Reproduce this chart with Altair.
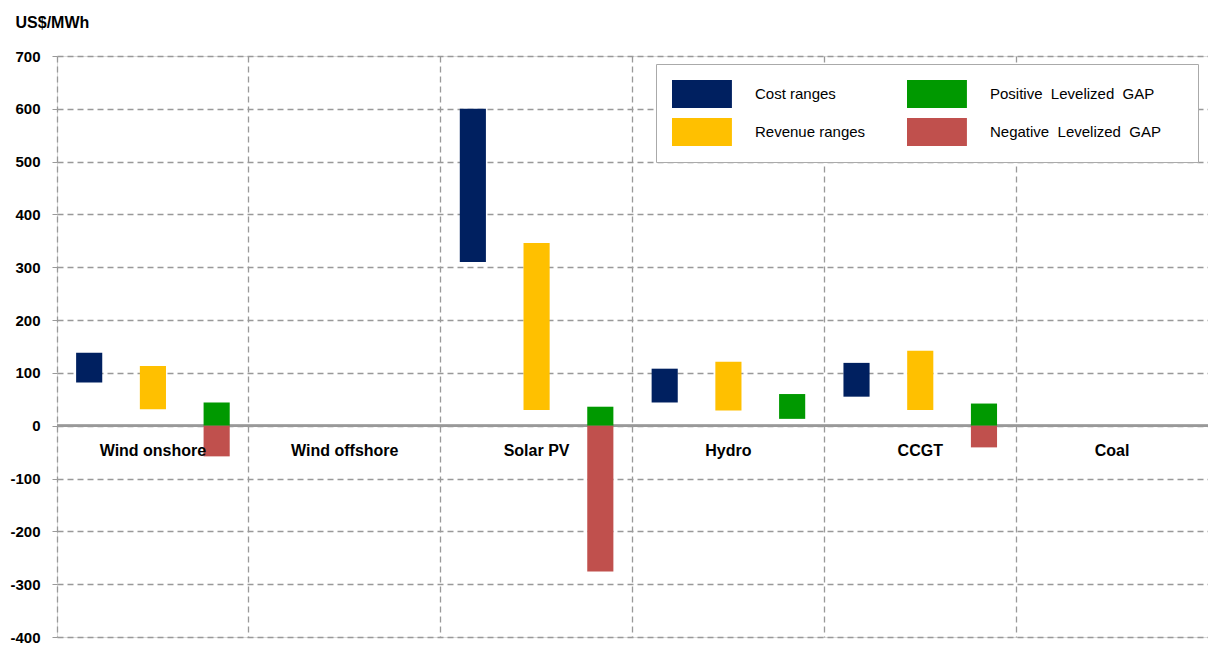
import altair as alt
import pandas as pd

categories = ["Wind onshore", "Wind offshore", "Solar PV", "Hydro", "CCGT", "Coal"]
cost_low = [82, None, 310, 44, 55, None]
cost_high = [138, None, 600, 108, 119, None]
rev_low = [31, None, 30, 29, 30, None]
rev_high = [113, None, 346, 121, 142, None]
gap_pos_low = [0, None, 0, 13, 0, None]
gap_pos_high = [44, None, 36, 60, 42, None]
gap_neg_low = [-58, None, -276, None, -41, None]
gap_neg_high = [0, None, 0, None, 0, None]

series_names = ["Cost ranges", "Positive Levelized GAP", "Revenue ranges", "Negative Levelized GAP"]
series_colors = ["#002060", "#009900", "#FFC000", "#C0504D"]
slots = ["cost", "revenue", "gap"]

rows = []
for i, c in enumerate(categories):
    for name, slot, lo, hi in [
        ("Cost ranges", "cost", cost_low[i], cost_high[i]),
        ("Revenue ranges", "revenue", rev_low[i], rev_high[i]),
        ("Positive Levelized GAP", "gap", gap_pos_low[i], gap_pos_high[i]),
        ("Negative Levelized GAP", "gap", gap_neg_low[i], gap_neg_high[i]),
    ]:
        if lo is None or hi is None:
            continue
        rows.append({"category": c, "slot": slot, "series": name, "low": lo, "high": hi})
bars_df = pd.DataFrame(rows)
labels_df = pd.DataFrame({"category": categories})

FONT = "Liberation Sans"
GRID = "#999999"

x_scale = alt.Scale(domain=categories, paddingInner=0, paddingOuter=0)

pad_expr = ("indexof(datum.label, 'GAP') >= 0 ? "
            "replace(replace(datum.label, ' L', '\u00a0 L'), ' G', '\u00a0 G') + "
            "'\u00a0\u00a0\u00a0\u00a0\u00a0\u2060' : datum.label")

bars = alt.Chart(bars_df).mark_bar(opacity=1).encode(
    x=alt.X("category:N", scale=x_scale, sort=categories,
            axis=alt.Axis(labels=False, ticks=False, domain=False, title=None,
                          grid=True, bandPosition=0, gridDash=[6, 4],
                          gridColor=GRID, gridWidth=1.3)),
    xOffset=alt.XOffset("slot:N", sort=slots,
                        scale=alt.Scale(domain=slots, paddingInner=0.59, paddingOuter=0.3)),
    y=alt.Y("low:Q", scale=alt.Scale(domain=[-400, 700], nice=False),
            axis=alt.Axis(values=list(range(-400, 701, 100)), grid=True, gridDash=[6, 4],
                          gridColor=GRID, gridWidth=1.3, domain=False,
                          tickColor=GRID, tickSize=5, labelPadding=12,
                          labelExpr="'' + datum.value",
                          labelFont=FONT, labelFontSize=15, labelFontWeight="bold",
                          labelColor="black",
                          title="US$/MWh", titleAngle=0, titleAlign="left",
                          titleBaseline="alphabetic", titleX=-42, titleY=-29,
                          titleFont=FONT, titleFontSize=16, titleFontWeight="bold",
                          titleColor="black")),
    y2="high:Q",
    color=alt.Color("series:N",
                    scale=alt.Scale(domain=series_names, range=series_colors),
                    legend=alt.Legend(
                        title=None, orient="none", legendX=599, legendY=8,
                        columns=2, direction="horizontal",
                        symbolType="M-1,-1H3.28V1H-1Z", symbolSize=784,
                        symbolStrokeWidth=0, symbolOpacity=1,
                        labelOffset=55, labelFont=FONT, labelFontSize=15,
                        labelColor="black", labelLimit=300,
                        labelExpr=pad_expr,
                        rowPadding=10, columnPadding=41, padding=16,
                        strokeColor="#aaaaaa", fillColor="white")),
)

zero = alt.Chart(labels_df).mark_rule(color=GRID, strokeWidth=2).encode(
    y=alt.datum(0)
)

cat_labels = alt.Chart(labels_df).mark_text(
    font=FONT, fontSize=16, fontWeight="bold", color="black", dy=25, baseline="middle"
).encode(
    x=alt.X("category:N", scale=x_scale, sort=categories),
    y=alt.datum(0),
    text="category:N",
)

chart = alt.layer(zero, bars, cat_labels).properties(
    width=1151, height=581,
    autosize=alt.AutoSizeParams(type="none"),
    padding={"left": 57, "top": 56, "right": 0, "bottom": 10},
).configure_view(stroke=None).configure(background="white")

chart.save("out.html", embed_options={"renderer": "svg", "actions": False})
